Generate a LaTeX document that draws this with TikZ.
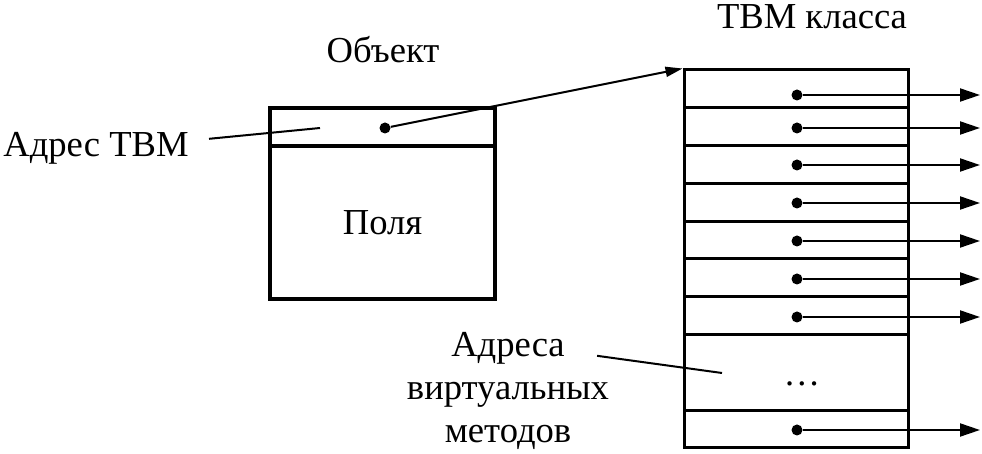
\documentclass[tikz,border=0pt]{standalone}
\usepackage{fontspec}
\setmainfont{Liberation Serif}
\usetikzlibrary{arrows.meta}

\begin{document}
\begin{tikzpicture}[x=0.5pt,y=-0.5pt,
	font=\fontsize{18.3}{22}\selectfont,
	cell/.style={draw,line width=1.5pt,inner sep=0pt,minimum width=112pt,minimum height=18.9pt},
	pole/.style={draw,line width=1.6pt,inner sep=0pt,minimum width=112.5pt},
	dot/.style={circle,fill,inner sep=0pt,minimum size=5.5pt},
	lbl/.style={anchor=base,inner sep=2pt},
	ptr/.style={line width=1pt,-{Triangle[length=10pt,width=6.5pt]}},
	lead/.style={line width=1pt}]
	\useasboundingbox (0,0) rectangle (982,454);
	% titles
		\node[lbl] (objtitle) at (383,63) {Объект};
		\node[lbl,inner sep=0pt] (tbmtitle) at (812,29) {ТВМ класса};
		\node[lbl] (addrlbl) at (96,157) {Адрес ТВМ};
		\node[lbl] (vm1) at (508,357) {Адреса};
		\node[lbl] (vm2) at (508,400) {виртуальных};
		\node[lbl] (vm3) at (508,443) {методов};
	% object
		\node[pole,minimum height=19pt] (hdr) at (382.5,127) {};
		\node[pole,minimum height=76.5pt] (fields) at (382.5,222.5) {Поля};
		\node[dot] (hdot) at (385,128) {};
		\coordinate (hend) at (320,128);
		\draw[lead] ([shift={(16,-10)}]addrlbl.east) -- (hend);
	% TBM table
		\node[cell] (r1) at (796,88.9) {};
		\node[cell] (r2) at (796,126.7) {};
		\node[cell] (r3) at (796,164.5) {};
		\node[cell] (r4) at (796,202.3) {};
		\node[cell] (r5) at (796,240.1) {};
		\node[cell] (r6) at (796,277.9) {};
		\node[cell] (r7) at (796,315.7) {};
		\node[cell,minimum height=37.8pt] (r8) at (796,372.4) {};
		\node[cell] (r9) at (796,429.1) {};
		\node (ellip) at (802,384) {\dots};
		\coordinate (vmend) at (722,373);
		\draw[lead] ([shift={(28,7)}]vm1.east) -- (vmend);
		\draw[ptr,-{Triangle[length=8.5pt,width=5pt]}] (hdot) -- (r1.north west);
	% method pointers
		\node[dot] (d1) at (797,95) {};  \coordinate (e1) at (980,95);  \draw[ptr] (d1) -- (e1);
		\node[dot] (d2) at (797,128) {}; \coordinate (e2) at (980,128); \draw[ptr] (d2) -- (e2);
		\node[dot] (d3) at (797,165) {}; \coordinate (e3) at (980,165); \draw[ptr] (d3) -- (e3);
		\node[dot] (d4) at (797,203) {}; \coordinate (e4) at (980,203); \draw[ptr] (d4) -- (e4);
		\node[dot] (d5) at (797,241) {}; \coordinate (e5) at (980,241); \draw[ptr] (d5) -- (e5);
		\node[dot] (d6) at (797,279) {}; \coordinate (e6) at (980,279); \draw[ptr] (d6) -- (e6);
		\node[dot] (d7) at (797,317) {}; \coordinate (e7) at (980,317); \draw[ptr] (d7) -- (e7);
		\node[dot] (d8) at (797,430) {}; \coordinate (e8) at (980,430); \draw[ptr] (d8) -- (e8);
\end{tikzpicture}
\end{document}
